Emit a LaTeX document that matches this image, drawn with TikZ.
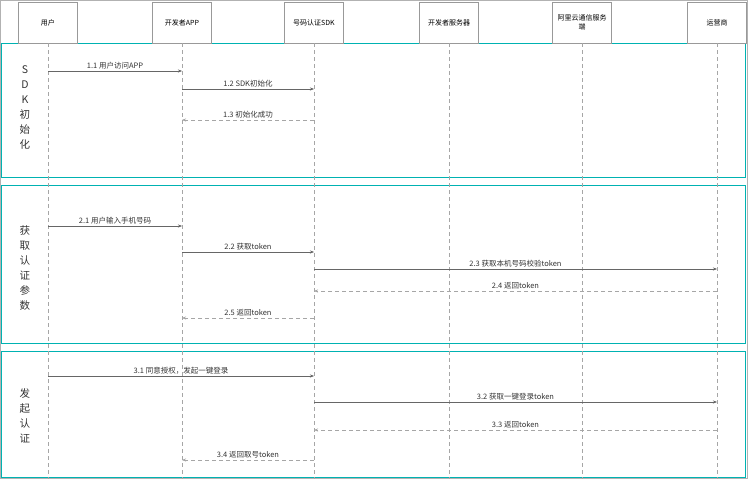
\documentclass[tikz,border=0pt]{standalone}
\usepackage{fontspec}
\setmainfont{Noto Sans CJK SC}
\usetikzlibrary{arrows.meta}
\begin{document}
\begin{tikzpicture}[x=1pt,y=-1pt,
  actor/.style={draw=gray!80,fill=white,minimum width=59pt,minimum height=41pt,font=\fontsize{7}{8.5}\selectfont,align=center,inner sep=1pt},
  life/.style={gray!70,dash pattern=on 4pt off 3pt},
  sec/.style={draw=teal!60!cyan,line width=0.9pt},
  msg/.style={gray!80!black,-{Stealth[length=4pt,width=3pt]}},
  ret/.style={msg,dash pattern=on 4pt off 3pt,gray!70},
  lbl/.style={font=\fontsize{7.5}{9}\selectfont,text=black!80,above,inner sep=2pt},
  stitle/.style={font=\fontsize{10.5}{15}\selectfont,align=center,text=black!80}]
\useasboundingbox (0,0) rectangle (748,479);
\draw[gray!60] (0.5,0.5) rectangle (747.5,478.5);
\draw[sec] (1.5,43) rectangle (745.5,177);
\draw[sec] (1.5,185) rectangle (745.5,343);
\draw[sec] (1.5,351) rectangle (745.5,477);
\foreach \n/\x/\t in {u/48/用户,a/182/开发者APP,s/314/号码认证SDK,v/449/开发者服务器,l/582/{阿里云通信服务\\端},o/717/运营商}{
  \node[actor] (\n) at (\x,22.5) {\t};
  \coordinate (\n b) at (\x,479);
  \draw[life] (\n.south) -- (\n b);
}
\node[stitle] (t1) at (25,108) {S\\D\\K\\初\\始\\化};
\node[stitle] (t2) at (25,268) {获\\取\\认\\证\\参\\数};
\node[stitle] (t3) at (25,416) {发\\起\\认\\证};
\foreach \st/\f/\tt/\y/\txt in {
 msg/u/a/71/1.1 用户访问APP,
 msg/a/s/89/1.2 SDK初始化,
 ret/s/a/120/1.3 初始化成功,
 msg/u/a/226/2.1 用户输入手机号码,
 msg/a/s/252/2.2 获取token,
 msg/s/o/269/2.3 获取本机号码校验token,
 ret/o/s/291/2.4 返回token,
 ret/s/a/318/2.5 返回token,
 msg/u/s/376/{3.1 同意授权，发起一键登录},
 msg/s/o/402/3.2 获取一键登录token,
 ret/o/s/430/3.3 返回token,
 ret/s/a/460/3.4 返回取号token}{
 \draw[\st] (\f.south |- 0,\y) -- node[lbl]{\txt} (\tt.south |- 0,\y);
}
\end{tikzpicture}
\end{document}
